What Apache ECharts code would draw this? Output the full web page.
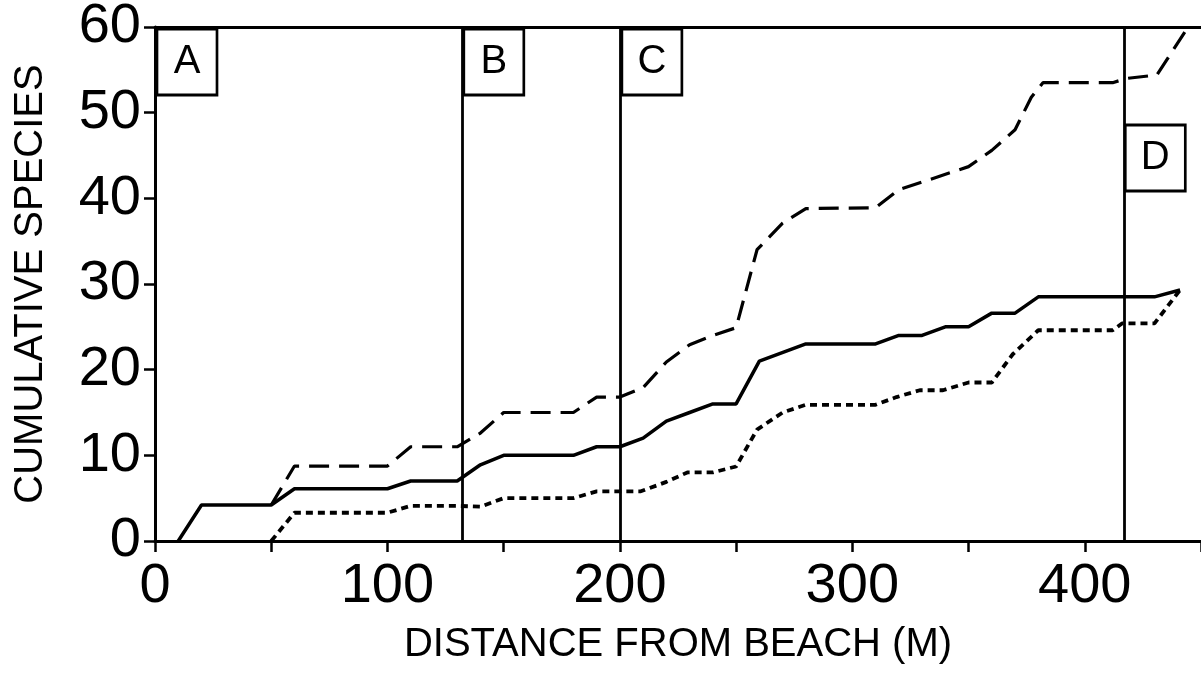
<!DOCTYPE html>
<html>
<head>
<meta charset="utf-8">
<script src="https://cdn.jsdelivr.net/npm/echarts@6/dist/echarts.min.js"></script>
<style>
html,body{margin:0;padding:0;background:#fff;}
#chart{width:1201px;height:680px;}
</style>
</head>
<body>
<div id="chart"></div>
<script>
// ---- data (distance m, cumulative species) ----
const solidLine = [[10,0],[20,4.2],[50,4.2],[60,6.1],[100,6.1],[110,7],[130,7],[140,8.9],[150,10],[180,10],[190,11],[200,11],[210,12],[220,14],[230,15],[240,16],[250,16],[260,21],[280,23],[310,23],[320,24],[330,24],[340,25],[350,25],[360,26.6],[370,26.6],[380,28.5],[430,28.5],[441,29.3]];
const dashedLine = [[50,4.2],[60,8.75],[100,8.75],[110,11],[130,11],[140,12.6],[150,15],[180,15],[190,16.8],[200,16.8],[210,17.9],[220,20.9],[230,22.9],[240,24],[250,24.9],[259,34],[270,37.1],[280,38.8],[310,38.9],[320,41],[350,43.7],[360,45.6],[370,48],[377,51.8],[382,53.5],[412,53.5],[418,54],[431,54.4],[444,59.8]];
const dottedLine = [[50,0],[60,3.3],[100,3.3],[110,4.1],[130,4.1],[140,4],[150,5],[180,5],[190,5.8],[209,5.8],[220,6.9],[229,8],[240,8],[250,8.7],[259,13],[270,15],[280,15.9],[310,15.9],[319,16.8],[329,17.6],[339,17.6],[350,18.5],[360,18.5],[369,21.8],[380,24.6],[412,24.6],[416,25.4],[430,25.4],[441,29.3]];
const zoneNames = ['A','B','C','D'];
const zoneStarts = [0,132,200,417];
const xTickLabels = [0,100,200,300,400];
const yTickLabels = [0,10,20,30,40,50,60];

const FONT = '"Liberation Sans", Arial, sans-serif';
const chart = echarts.init(document.getElementById('chart'));

const boxData = zoneNames.map((n,i)=>({
  value:[zoneStarts[i],60],
  name:n,
  symbolOffset: n==='D' ? [31,131] : [32,35]
}));

chart.setOption({
  animation:false,
  backgroundColor:'#fff',
  grid:{left:155,right:0,top:27,bottom:139,containLabel:false,outerBoundsMode:'none'},
  xAxis:[{
    type:'value',min:0,max:450,interval:50,
    axisLine:{show:true,lineStyle:{color:'#000',width:3}},
    axisTick:{show:true,length:11,lineStyle:{color:'#000',width:2.5}},
    splitLine:{show:false},
    axisLabel:{color:'#000',fontFamily:FONT,fontSize:56,margin:18,
      formatter:v=>xTickLabels.indexOf(v)>=0?String(v):''},
    name:'DISTANCE FROM BEACH (M)',nameLocation:'middle',nameGap:84,
    nameTextStyle:{color:'#000',fontFamily:FONT,fontSize:40}
  },{
    type:'value',min:0,max:450,position:'top',
    axisLine:{show:true,onZero:false,lineStyle:{color:'#000',width:3}},
    axisTick:{show:false},axisLabel:{show:false},splitLine:{show:false}
  }],
  yAxis:{
    type:'value',min:0,max:60,interval:10,
    axisLine:{show:true,lineStyle:{color:'#000',width:3}},
    axisTick:{show:true,length:11,lineStyle:{color:'#000',width:2.5}},
    splitLine:{show:false},
    axisLabel:{color:'#000',fontFamily:FONT,fontSize:56,margin:14,
      formatter:v=>yTickLabels.indexOf(v)>=0?String(v):''},
    name:'CUMULATIVE SPECIES',nameLocation:'middle',nameGap:104,nameRotate:90,
    nameTextStyle:{color:'#000',fontFamily:FONT,fontSize:40}
  },
  series:[
    {type:'line',data:solidLine,symbol:'none',lineStyle:{color:'#000',width:3.5},z:3,
     markLine:{silent:true,symbol:'none',label:{show:false},
       lineStyle:{color:'#000',width:2.8,type:'solid'},
       data:zoneStarts.slice(1).map(v=>({xAxis:v}))}},
    {type:'line',data:dashedLine,symbol:'none',lineStyle:{color:'#000',width:3.2,type:[20,10]},z:3},
    {type:'line',data:dottedLine,symbol:'none',lineStyle:{color:'#000',width:3.8,type:[7,5]},z:3},
    {type:'scatter',data:boxData,symbol:'rect',symbolSize:[60,66],clip:false,z:5,
     itemStyle:{color:'#fff',borderColor:'#000',borderWidth:2.8,opacity:1},
     label:{show:true,position:'inside',formatter:p=>p.name,color:'#000',fontFamily:FONT,fontSize:40},
     emphasis:{disabled:true}}
  ]
});
</script>
</body>
</html>
